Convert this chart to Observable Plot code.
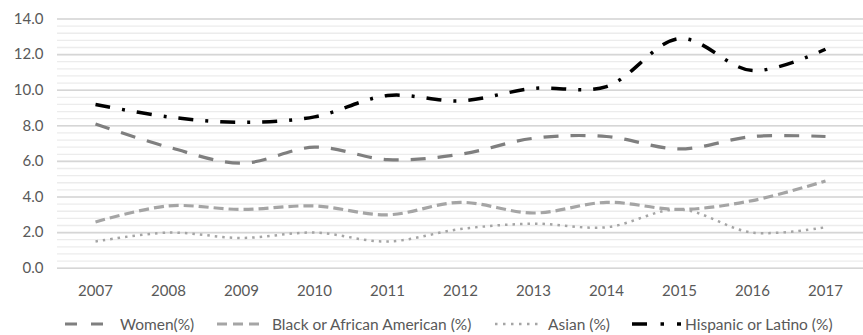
<!DOCTYPE html>
<html>
<head>
<meta charset="utf-8">
<script src="https://cdn.jsdelivr.net/npm/d3@7"></script>
<script src="https://cdn.jsdelivr.net/npm/@observablehq/plot@0.6"></script>
<style>
  html, body { margin: 0; padding: 0; background: #fff; }
  #wrap { position: relative; width: 863px; height: 335px; font-family: Lato, "Open Sans", sans-serif; }
  #legend { position: absolute; left: 0; top: 313px; width: 863px; height: 22px; }
  .swatch { position: absolute; top: 6px; display: block; }
  .label { position: absolute; top: 0; height: 22px; line-height: 22px; font-size: 15.5px; color: #595959; white-space: nowrap; }
</style>
</head>
<body>
<div id="wrap">
  <div id="chart"></div>
  <div id="legend"></div>
</div>
<script>
const years = [2007, 2008, 2009, 2010, 2011, 2012, 2013, 2014, 2015, 2016, 2017];
const women    = [8.1, 6.8, 5.9, 6.8, 6.1, 6.4, 7.3, 7.4, 6.7, 7.4, 7.4];
const black    = [2.6, 3.5, 3.3, 3.5, 3.0, 3.7, 3.1, 3.7, 3.3, 3.8, 4.9];
const asian    = [1.5, 2.0, 1.7, 2.0, 1.5, 2.2, 2.5, 2.3, 3.3, 2.0, 2.3];
const hispanic = [9.2, 8.5, 8.2, 8.5, 9.7, 9.4, 10.1, 10.2, 12.9, 11.1, 12.3];
const seriesNames = ["Women(%)", "Black or African American (%)", "Asian (%)", "Hispanic or Latino (%)"];
const yMajorTicks = [0, 2, 4, 6, 8, 10, 12, 14];
const yMinorTicks = d3.range(0, 14.001, 0.4);

const styles = {
  "Women(%)": {stroke: "#7f7f7f", dash: "15,12", width: 3.2, legendDash: "12,14", sx: 65, sw: 38, tx: 120},
  "Black or African American (%)": {stroke: "#a5a5a5", dash: "10,5", width: 3.2, legendDash: "10,6", sx: 217, sw: 46, tx: 272},
  "Asian (%)": {stroke: "#a5a5a5", dash: "2.5,5", width: 2.5, legendDash: "2.5,5.5", sx: 495, sw: 43, tx: 548},
  "Hispanic or Latino (%)": {stroke: "#000000", dash: "15,12,3,12", width: 3.5, legendDash: "15,13.5,3.5,13,4,20", sx: 632, sw: 50, tx: 685}
};

const valuesBySeries = [women, black, asian, hispanic];
const table = [];
seriesNames.forEach((name, i) => {
  years.forEach((yr, j) => table.push({series: name, year: yr, value: valuesBySeries[i][j]}));
});

const W = 863, H = 305;
const chart = Plot.plot({
  width: W,
  height: H,
  marginLeft: 57,
  marginRight: 0,
  marginTop: 18.5,
  marginBottom: 37.3,
  style: {fontFamily: "Lato, 'Open Sans', sans-serif", fontSize: "15px", color: "#595959", background: "#fff"},
  x: {type: "point", domain: years, padding: 0.5},
  y: {domain: [0, 14]},
  marks: [
    Plot.ruleY(yMinorTicks, {stroke: "#ececec", strokeWidth: 1.3}),
    Plot.ruleY(yMajorTicks, {stroke: "#d6d6d6", strokeWidth: 1.6}),
    Plot.axisX({tickSize: 0, tickPadding: 17, tickFormat: d => String(d), fontSize: 15, fill: "#595959", label: null}),
    Plot.axisY({ticks: yMajorTicks, tickSize: 0, tickPadding: 14, tickFormat: d3.format(".1f"), fontSize: 15, fill: "#595959", label: null}),
    ...seriesNames.map(name => Plot.line(table.filter(d => d.series === name), {
      x: "year", y: "value", curve: "catmull-rom",
      stroke: styles[name].stroke, strokeWidth: styles[name].width,
      strokeDasharray: styles[name].dash, strokeLinecap: "butt"
    }))
  ]
});
document.getElementById("chart").appendChild(chart);

const legend = document.getElementById("legend");
const ns = "http://www.w3.org/2000/svg";
seriesNames.forEach(name => {
  const s = styles[name];
  const svg = document.createElementNS(ns, "svg");
  svg.setAttribute("class", "swatch");
  svg.setAttribute("width", s.sw);
  svg.setAttribute("height", 10);
  svg.style.left = s.sx + "px";
  const ln = document.createElementNS(ns, "line");
  ln.setAttribute("x1", 0); ln.setAttribute("x2", s.sw);
  ln.setAttribute("y1", 5); ln.setAttribute("y2", 5);
  ln.setAttribute("stroke", s.stroke);
  ln.setAttribute("stroke-width", s.width);
  ln.setAttribute("stroke-dasharray", s.legendDash);
  svg.appendChild(ln);
  legend.appendChild(svg);
  const t = document.createElement("div");
  t.className = "label";
  t.style.left = s.tx + "px";
  t.textContent = name;
  legend.appendChild(t);
});
</script>
</body>
</html>
